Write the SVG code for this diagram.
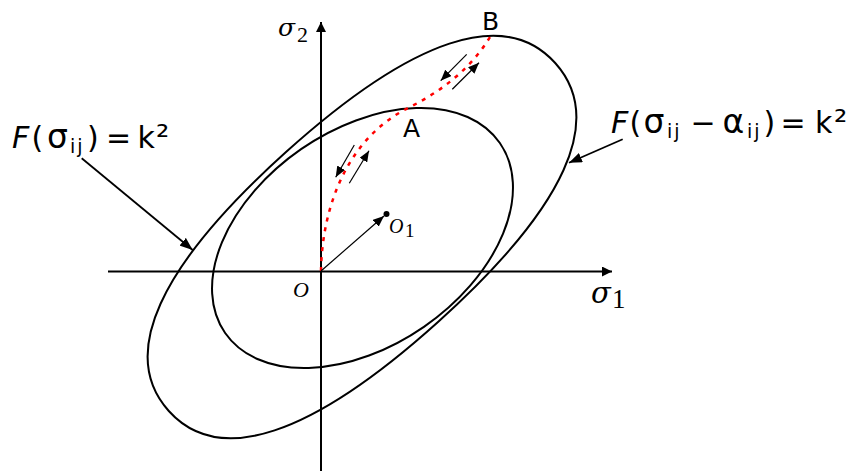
<svg xmlns="http://www.w3.org/2000/svg" width="862" height="472" viewBox="0 0 862 472">
<defs>
<style>
.curve{fill:none;stroke:#000;stroke-width:2}
.axis{fill:none;stroke:#000;stroke-width:2}
.thin{fill:none;stroke:#000;stroke-width:1.2}
.lead{fill:none;stroke:#000;stroke-width:1.8}
.path{fill:none;stroke:#ff0000;stroke-width:2.5;stroke-dasharray:4 6}
.sans{font-family:"DejaVu Sans",Verdana,sans-serif;fill:#000}
.math{font-family:"DejaVu Serif","Liberation Serif",serif;font-style:italic;fill:#000}
.rom{font-family:"Liberation Serif","Times New Roman",serif;font-style:italic;fill:#000}
.up{font-style:normal}
.sub{font-size:19px;letter-spacing:2px}
</style>
<marker id="axh" markerUnits="userSpaceOnUse" markerWidth="10" markerHeight="10" refX="10" refY="5" orient="auto"><path d="M0,0 L10,5 L0,10 z" fill="#000"/></marker>
<marker id="sah" markerUnits="userSpaceOnUse" markerWidth="11" markerHeight="9" refX="11" refY="4.5" orient="auto"><path d="M0,0 L11,4.5 L0,9 z" fill="#000"/></marker>
<marker id="lah" markerUnits="userSpaceOnUse" markerWidth="13" markerHeight="10" refX="13" refY="5" orient="auto"><path d="M0,0 L13,5 L0,10 z" fill="#000"/></marker>
</defs>
<rect width="862" height="472" fill="#fff"/>

<g id="axes">
<line class="axis" x1="108" y1="271.5" x2="612" y2="271.5" marker-end="url(#axh)"/>
<line class="axis" x1="321" y1="471" x2="321" y2="22" marker-end="url(#axh)"/>
<text class="math" x="278" y="36" font-size="25">σ</text>
<text class="rom up" x="297" y="42" font-size="22">2</text>
<text class="math" x="591" y="303" font-size="29">σ</text>
<text class="rom up" x="612" y="308" font-size="27">1</text>
<text class="rom" x="293" y="297" font-size="22">O</text>
</g>

<g id="outer-surface" transform="translate(362,237) rotate(-42)">
<path class="curve" d="M260,0 C260,75.24 171.6,114 0,114 C-171.6,114 -260,75.24 -260,0 C-260,-75.24 -171.6,-114 0,-114 C171.6,-114 260,-75.24 260,0 Z"/>
</g>

<g id="inner-surface">
<ellipse class="curve" cx="362.5" cy="238" rx="167" ry="108" transform="rotate(-34.66 362.5 238)"/>
</g>

<g id="loading-path">
<path class="path" d="M321,271 C322,210 345,140 408,108 C440,92 470,70 490,37"/>
<text class="sans" x="403" y="137" font-size="25">A</text>
<text class="sans" x="482" y="30" font-size="25">B</text>
</g>

<g id="center-O1">
<circle cx="386.5" cy="214" r="3" fill="#000"/>
<text class="rom" x="389" y="233" font-size="20">O</text>
<text class="rom up" x="405" y="237" font-size="19">1</text>
</g>

<g id="label-yield">
<text class="sans" y="148" font-size="30"><tspan x="12" font-style="italic">F</tspan><tspan x="31.5">(</tspan><tspan x="47" font-size="33">σ</tspan><tspan class="sub" x="70" y="153">ij</tspan><tspan x="87" y="148">)</tspan><tspan x="106">=</tspan><tspan x="137.6">k</tspan><tspan x="156" font-size="33">²</tspan></text>
</g>

<g id="label-loading">
<text class="sans" y="133" font-size="30"><tspan x="611" font-style="italic">F</tspan><tspan x="629.5">(</tspan><tspan x="643.5" font-size="33">σ</tspan><tspan class="sub" x="667" y="138">ij</tspan><tspan x="690.4" y="133">−</tspan><tspan x="722.6" font-size="33">α</tspan><tspan class="sub" x="747" y="138">ij</tspan><tspan x="763.5" y="133">)</tspan><tspan x="780.4">=</tspan><tspan x="815">k</tspan><tspan x="834" font-size="33">²</tspan></text>
</g>

<g id="connectors">
<line class="thin" x1="321" y1="271" x2="384" y2="216" marker-end="url(#sah)"/>
<line class="thin" x1="466.7" y1="54.3" x2="440.7" y2="80.7" marker-end="url(#sah)"/>
<line class="thin" x1="452.3" y1="89.3" x2="479" y2="62.7" marker-end="url(#sah)"/>
<line class="thin" x1="354.3" y1="145" x2="335.7" y2="177.3" marker-end="url(#sah)"/>
<line class="thin" x1="349.3" y1="183.3" x2="369" y2="150.7" marker-end="url(#sah)"/>
<line class="lead" x1="81.7" y1="158.3" x2="192.7" y2="250" marker-end="url(#lah)"/>
<line class="lead" x1="622.7" y1="139.3" x2="569" y2="162.8" marker-end="url(#lah)"/>
</g>
</svg>
